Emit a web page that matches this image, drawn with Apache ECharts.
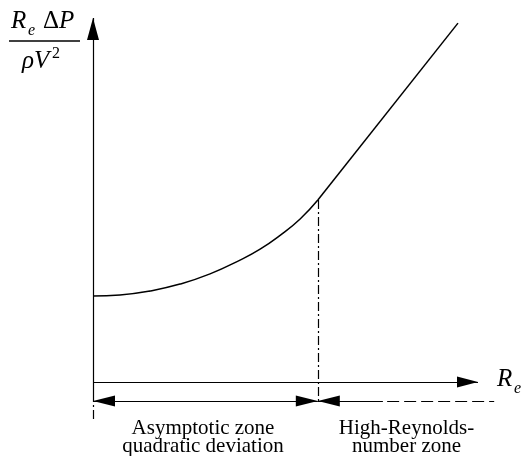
<!DOCTYPE html>
<html><head><meta charset="utf-8">
<script src="https://cdn.jsdelivr.net/npm/echarts@6/dist/echarts.min.js"></script>
<style>html,body{margin:0;padding:0;background:#fff}#c{width:523px;height:456px}</style>
</head><body><div id="c"></div>
<script>
// Asymptotic (quadratic deviation) branch
const curveRe  = [0, 7.0, 14.8, 22.6, 30.4, 38.2, 43.4, 48.6, 53.8, 58.4];
const curveVal = [23.6, 23.9, 25.0, 26.9, 29.7, 33.5, 36.5, 40.3, 44.8, 50.0];
// High-Reynolds-number branch (straight line)
const highRe  = [58.4, 94.8];
const highVal = [50.0, 98.6];
// Axis / annotation levels (data units)
const axisEndRe = 100, axisEndVal = 100;
const transitionRe = 58.4, transitionVal = 50.0;
const zoneLevel = -5.2;
const zoneSolidEnd = 75.3, zoneDashStart = 76.4, zoneDashEnd = 104.2;
const yAxisSolidBottom = -3.0, yAxisDashBottom = -10.4;
const zoneLabels = ['Asymptotic zone\nquadratic deviation', 'High-Reynolds-\nnumber zone'];

const FONT = '"Liberation Serif", "DejaVu Serif", serif';
const INK = '#000';
const tri = (w, h) => ({ symbol: 'triangle', symbolSize: [w, h], symbolOffset: [0, h / 2] });
const none = { symbol: 'none' };

function seg(a, b, sa, sb) {
  return [Object.assign({ coord: a }, sa || none), Object.assign({ coord: b }, sb || none)];
}
function markSeries(data, lineType) {
  return {
    type: 'line', data: [], silent: true, animation: false,
    markLine: {
      silent: true, animation: false, precision: 4,
      label: { show: false }, emphasis: { disabled: true },
      lineStyle: { color: INK, width: 1.2, type: lineType, opacity: 1 },
      itemStyle: { color: INK },
      data: data
    }
  };
}

const chart = echarts.init(document.getElementById('c'), null, { renderer: 'canvas' });
chart.setOption({
  animation: false,
  backgroundColor: '#fff',
  grid: { left: 16, top: 3.44, width: 500.5, height: 436.8, containLabel: false },
  xAxis: { type: 'value', min: -20, max: 110, show: false },
  yAxis: { type: 'value', min: -16, max: 104, show: false },
  series: [
    {
      type: 'line', name: 'asymptotic', smooth: 0.5,
      showSymbol: false, symbol: 'none', silent: true, clip: false,
      lineStyle: { color: INK, width: 1.5 },
      data: curveRe.map((x, i) => [x, curveVal[i]])
    },
    {
      type: 'line', name: 'high', showSymbol: false, symbol: 'none', silent: true, clip: false,
      lineStyle: { color: INK, width: 1.5 },
      data: highRe.map((x, i) => [x, highVal[i]])
    },
    markSeries([
      seg([0, 0], [axisEndRe, 0], none, tri(11, 21)),
      seg([0, yAxisSolidBottom], [0, axisEndVal], none, tri(12, 22)),
      seg([0, zoneLevel], [transitionRe, zoneLevel], tri(11, 22), tri(11, 22)),
      seg([transitionRe, zoneLevel], [zoneSolidEnd, zoneLevel], tri(11, 22), none)
    ], 'solid'),
    markSeries([
      seg([zoneDashStart, zoneLevel], [zoneDashEnd, zoneLevel])
    ], [12, 5]),
    markSeries([
      seg([transitionRe, transitionVal], [transitionRe, zoneLevel]),
      seg([0, yAxisSolidBottom], [0, yAxisDashBottom])
    ], [9, 3, 2, 3])
  ],
  graphic: [
    // y-axis label: Re ΔP / ρV²
    { type: 'text', left: 11, top: 9, style: { text: 'R', font: 'italic 25px ' + FONT, fill: INK } },
    { type: 'text', left: 28, top: 23, style: { text: 'e', font: 'italic 16px ' + FONT, fill: INK } },
    { type: 'text', left: 43, top: 9, style: { text: 'Δ', font: '25px ' + FONT, fill: INK } },
    { type: 'text', left: 59, top: 9, style: { text: 'P', font: 'italic 25px ' + FONT, fill: INK } },
    { type: 'line', shape: { x1: 9, y1: 41, x2: 80, y2: 41 }, style: { stroke: INK, lineWidth: 1.3 } },
    { type: 'text', left: 22, top: 49, style: { text: 'ρV', font: 'italic 25px ' + FONT, fill: INK } },
    { type: 'text', left: 52, top: 46, style: { text: '2', font: '16px ' + FONT, fill: INK } },
    // x-axis label: Re
    { type: 'text', left: 497, top: 367, style: { text: 'R', font: 'italic 25px ' + FONT, fill: INK } },
    { type: 'text', left: 514, top: 381, style: { text: 'e', font: 'italic 16px ' + FONT, fill: INK } },
    // zone labels
    { type: 'text', x: 203, y: 419, style: { text: zoneLabels[0], font: '21px ' + FONT, lineHeight: 18, fill: INK, align: 'center', verticalAlign: 'top' } },
    { type: 'text', x: 406.5, y: 419, style: { text: zoneLabels[1], font: '21px ' + FONT, lineHeight: 18, fill: INK, align: 'center', verticalAlign: 'top' } }
  ]
});
</script></body></html>
